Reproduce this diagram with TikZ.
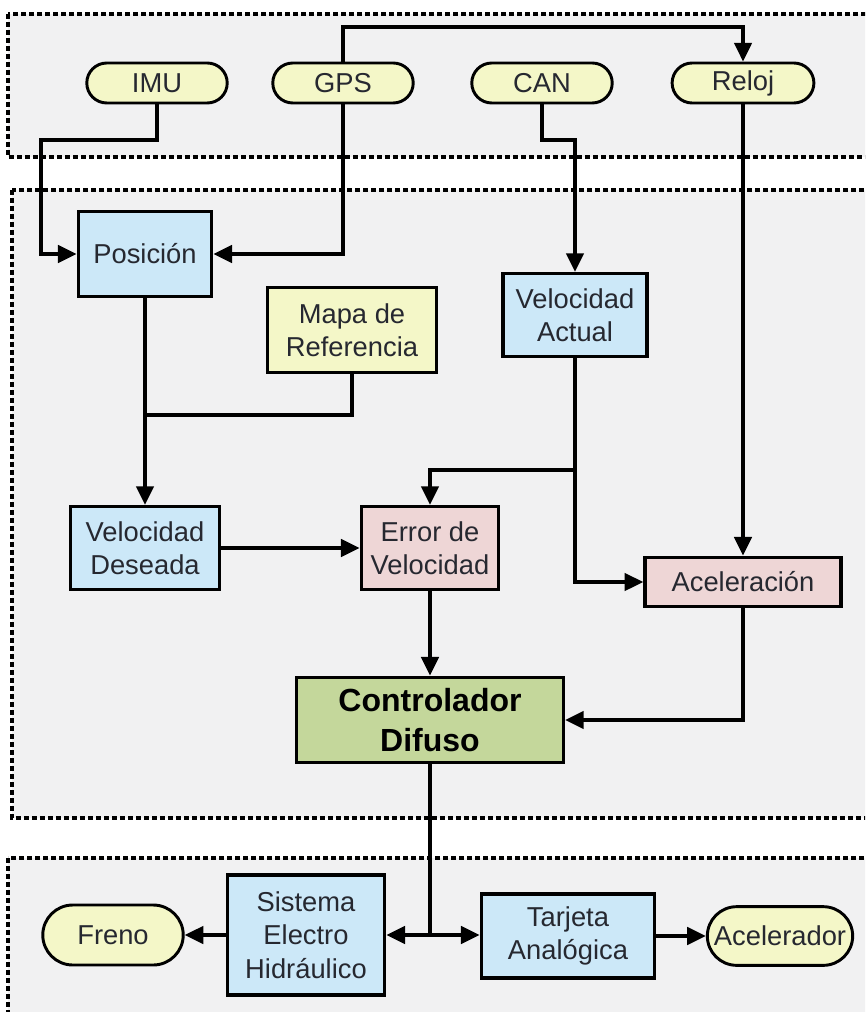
\documentclass[tikz,border=0pt]{standalone}
\usepackage{fontspec}
\setmainfont{Liberation Sans}
\usetikzlibrary{arrows.meta,shapes.misc}
\definecolor{boxblue}{RGB}{204,232,248}
\definecolor{boxyellow}{RGB}{244,247,200}
\definecolor{boxpink}{RGB}{238,214,214}
\definecolor{boxgreen}{RGB}{196,215,155}
\definecolor{zonebg}{RGB}{241,241,242}
\definecolor{inktext}{RGB}{38,40,48}
\tikzset{
  zone/.style={draw=black, fill=zonebg, line width=2.4pt, dash pattern=on 4pt off 2pt},
  block/.style={draw=black, line width=2.6pt, rectangle, align=center, inner sep=2pt,
    text=inktext, font=\fontsize{20.5}{25}\selectfont},
  pill/.style={draw=black, line width=2.2pt, rounded rectangle, fill=boxyellow, align=center,
    text=inktext, font=\fontsize{20.5}{25}\selectfont},
  arr/.style={line width=2.6pt, -{Triangle[length=14pt,width=13pt]}},
  wire/.style={line width=2.6pt},
}
\begin{document}
\begin{tikzpicture}[x=0.75pt,y=-0.75pt]
\useasboundingbox (0,0) rectangle (865,1012);
\clip (0,0) rectangle (865,1012);
\fill[white] (0,0) rectangle (865,1012);

% dashed zones: sensors, processing, actuators
\draw[zone] (8,14) rectangle (890,157);
\draw[zone] (12,190) rectangle (890,818);
\draw[zone] (8,858) rectangle (890,1040);

% sensors
\node[pill, minimum width=112pt, minimum height=30pt] (imu)   at (157,83) {IMU};
\node[pill, minimum width=112pt, minimum height=30pt] (gps)   at (343,83) {GPS};
\node[pill, minimum width=112pt, minimum height=30pt] (can)   at (542,83) {CAN};
\node[pill, minimum width=113pt, minimum height=30pt] (reloj) at (743,83) {Reloj};

% processing blocks
\node[block, fill=boxblue, minimum width=100pt, minimum height=64pt] (pos) at (145,254) {Posición};
\node[block, fill=boxyellow, minimum width=127pt, minimum height=64pt] (mapa) at (352,330) {Mapa de\\Referencia};
\node[block, fill=boxblue, minimum width=108pt, minimum height=62pt] (velact) at (575,315) {Velocidad\\Actual};
\node[block, fill=boxblue, minimum width=112pt, minimum height=62pt] (veldes) at (145,548) {Velocidad\\Deseada};
\node[block, fill=boxpink, minimum width=103pt, minimum height=62pt] (error) at (430,548) {Error de\\Velocidad};
\node[block, fill=boxpink, minimum width=147pt, minimum height=37pt] (acel) at (743,582) {Aceleración};
\node[block, fill=boxgreen, minimum width=200pt, minimum height=64pt,
      font=\bfseries\fontsize{24}{30}\selectfont, text=black] (ctrl) at (430,720) {Controlador\\Difuso};

% actuators
\node[pill, minimum width=112pt, minimum height=45pt] (freno) at (113,935) {Freno};
\node[block, fill=boxblue, minimum width=118pt, minimum height=90pt] (sis) at (306,935) {Sistema\\Electro\\Hidráulico};
\node[block, fill=boxblue, minimum width=130pt, minimum height=63pt] (tar) at (568,936) {Tarjeta\\Analógica};
\node[pill, minimum width=111pt, minimum height=44pt, inner xsep=1pt] (acc) at (780,936) {Acelerador};

% routing points
\coordinate (topY) at (0,27);
\coordinate (imuBend) at (41,140);
\coordinate (canBend) at (575,140);
\coordinate (mapJoin) at (145,415);
\coordinate (vaJoin) at (575,470);
\coordinate (junc) at (430,935);

% sensor connections
\draw[arr] (imu.south) |- (imuBend) |- (pos.west);
\draw[arr] (gps.north) -- (gps.north |- topY) -| (reloj.north);
\draw[arr] (gps.south) |- (pos.east);
\draw[arr] (can.south) |- (canBend) -- (velact.north);
\draw[arr] (reloj.south) -- (reloj.south |- acel.north);

% processing connections
\draw[arr] (pos.south) -- (veldes.north);
\draw[wire] (mapa.south) |- (mapJoin);
\draw[arr] (veldes.east) -- (error.west);
\draw[arr] (velact.south) -- (vaJoin) -| (error.north);
\draw[arr] (vaJoin) |- (acel.west);
\draw[arr] (error.south) -- (ctrl.north);
\draw[arr] (acel.south) |- (ctrl.east);

% actuator connections
\draw[wire] (ctrl.south) -- (junc);
\draw[arr] (junc) -- (junc -| sis.east);
\draw[arr] (junc) -- (junc -| tar.west);
\draw[arr] (sis.west) -- (sis.west -| freno.east);
\draw[arr] (tar.east) -- (tar.east -| acc.west);
\end{tikzpicture}
\end{document}
